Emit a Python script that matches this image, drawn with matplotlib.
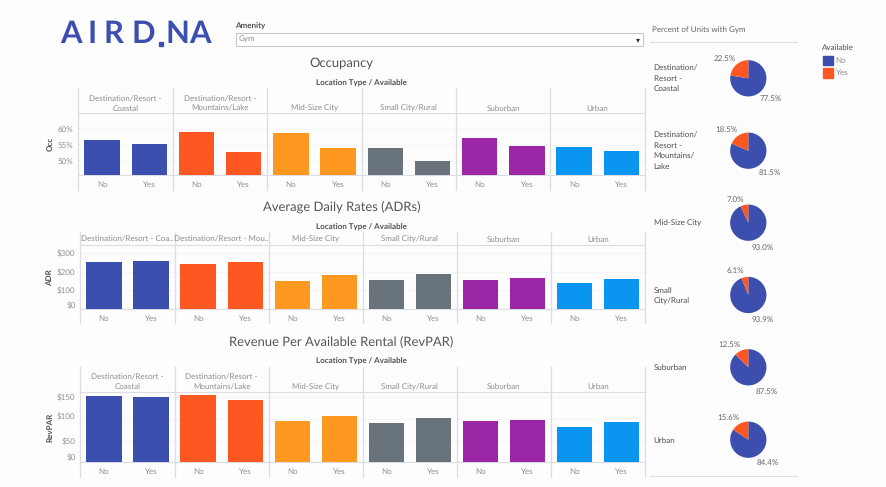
import matplotlib

matplotlib.use("Agg")
import matplotlib.pyplot as plt
from matplotlib.patches import Rectangle
from matplotlib.transforms import ScaledTranslation

plt.rcParams["font.family"] = ["Lato", "DejaVu Sans"]
plt.rcParams["text.hinting"] = "no_hinting"
plt.rcParams["text.hinting_factor"] = 1

WIDTH, HEIGHT = 886, 487

LOCATIONS = ["Destination/Resort - Coastal", "Destination/Resort - Mountains/Lake",
             "Mid-Size City", "Small City/Rural", "Suburban", "Urban"]
AVAILABLE = ["No", "Yes"]

OCC_HEADERS = ["Destination/Resort -\nCoastal", "Destination/Resort -\nMountains/Lake",
               "Mid-Size City", "Small City/Rural", "Suburban", "Urban"]
ADR_HEADERS = ["Destination/Resort - Coa..", "Destination/Resort - Mou..",
               "Mid-Size City", "Small City/Rural", "Suburban", "Urban"]

occ_values = [[56.5, 55.3], [59.0, 52.7], [58.8, 53.9], [53.9, 49.9], [57.1, 54.6], [54.4, 53.2]]
adr_values = [[252, 255], [241, 252], [149, 182], [154, 186], [154, 165], [141, 160]]
revpar_values = [[153, 151.5], [154.7, 143], [95, 106], [90, 101.6], [95, 98.4], [81.5, 92.4]]

occ_ticks = [50, 55, 60]
adr_ticks = [0, 100, 200, 300]
revpar_ticks = [0, 50, 100, 150]

PIE_LABELS = ["Destination/\nResort -\nCoastal", "Destination/\nResort -\nMountains/\nLake",
              "Mid-Size City", "Small\nCity/Rural", "Suburban", "Urban"]
pct_no = [77.5, 81.5, 93.0, 93.9, 87.5, 84.4]
pct_yes = [22.5, 18.5, 7.0, 6.1, 12.5, 15.6]

COLORS = ["#3D4FAE", "#FF5722", "#FF9820", "#68737B", "#9C27A6", "#0A96F0"]
BLUE, RED = COLORS[0], COLORS[1]
TEXT_DARK = "#555555"
TEXT_MID = "#666666"
TEXT_LIGHT = "#8e8e8e"
TEXT_BOLD = "#505050"
LINE = "#dcdce2"
GRID = "#f5f5f8"

fig = plt.figure(figsize=(WIDTH / 100, HEIGHT / 100), dpi=100, facecolor="#fdfdfe")


def px_axes(left, top, right, bottom, **kwargs):
    return fig.add_axes(
        [left / WIDTH, 1 - bottom / HEIGHT, (right - left) / WIDTH, (bottom - top) / HEIGHT],
        **kwargs,
    )


# overlay in pixel coords for the dashboard furniture
overlay = px_axes(0, 0, WIDTH, HEIGHT, zorder=5)
overlay.set_xlim(0, WIDTH)
overlay.set_ylim(HEIGHT, 0)
overlay.axis("off")
overlay.patch.set_alpha(0)


def label(x, y, text, size=6.2, color=TEXT_MID, ha="left", va="center", **kwargs):
    overlay.text(x, y, text, fontsize=size, color=color, ha=ha, va=va, **kwargs)


def draw_row(values, headers, ticks, tick_fmt, ylim, left, panel_w, top, head, base, bottom,
             title, title_y, sub_y, ylab, nudges, header_y, header_size):
    label(341.6, title_y, title, size=9.4, color=TEXT_DARK, ha="center")
    label(361, sub_y, "Location Type / Available", size=5.9, color=TEXT_BOLD, ha="center",
          fontweight="bold")
    label(50, (head + base) / 2, ylab, size=6, color=TEXT_BOLD, ha="center", rotation=90,
          fontweight="bold")
    overlay.plot([left, left + 6 * panel_w], [head, head], color=LINE, lw=0.8)
    for i in range(7):
        x = left + i * panel_w
        overlay.plot([x, x], [top, bottom], color=LINE, lw=0.9)
    for i, (vals, header) in enumerate(zip(values, headers)):
        x0 = left + i * panel_w
        ax = px_axes(x0, head, x0 + panel_w, base)
        ax.patch.set_alpha(0)
        ax.bar(AVAILABLE, vals, width=0.75, color=COLORS[i], zorder=3)
        ax.set_xlim(-0.5, 1.5)
        ax.set_ylim(*ylim)
        ax.set_yticks(ticks)
        ax.grid(axis="y", color=GRID, lw=0.8, zorder=0)
        for name, spine in ax.spines.items():
            spine.set_visible(name == "bottom")
        ax.spines["bottom"].set_color(LINE)
        ax.tick_params(axis="x", length=0, labelsize=5.8, labelcolor=TEXT_LIGHT, pad=3.8)
        ax.tick_params(axis="y", length=0, labelsize=5.7, labelcolor=TEXT_LIGHT, pad=3.5)
        if i == 0:
            ax.set_yticklabels([tick_fmt(t) for t in ticks])
            for text, nudge in zip(ax.get_yticklabels(), nudges):
                text.set_transform(text.get_transform() + ScaledTranslation(0, nudge / 100, fig.dpi_scale_trans))
        else:
            ax.tick_params(axis="y", labelleft=False)
        size = header_size if "\n" not in header and len(header) > 20 else 5.85
        label(x0 + panel_w / 2, header_y, header, size=size, color=TEXT_LIGHT, ha="center",
              va="bottom", linespacing=1.35)


draw_row(occ_values, OCC_HEADERS, occ_ticks, lambda t: f"{t}%", (45.3, 65.2),
         78.5, 94.4, 88, 113, 175.3, 190, "Occupancy", 63.5, 83.3, "Occ", [0, 0, 0], 112, 5.85)
draw_row(adr_values, ADR_HEADERS, adr_ticks, lambda t: f"${t}", (0, 340),
         80.5, 94.1, 232.3, 245.3, 309.3, 323.3, "Average Daily Rates (ADRs)", 207, 227, "ADR",
         [4.6, 0, 0, 0], 243, 5.5)
draw_row(revpar_values, OCC_HEADERS, revpar_ticks, lambda t: f"${t}", (0, 162),
         80.5, 94.1, 366.7, 392, 462.3, 476.7, "Revenue Per Available Rental (RevPAR)", 341, 361.5,
         "RevPAR", [5, 0, 2.5, 0], 390.8, 5.85)

# logo
for x, letter in zip([71, 92.5, 113, 143.5, 177.5, 199.5], "AIRDNA"):
    label(x, 34.5, letter, size=22, color="#3D4FAE", ha="center", fontweight="bold")
overlay.add_patch(Rectangle((159.5, 41.5), 4, 4, color="#3D4FAE"))

# amenity filter
label(235, 26.7, "Amenity", size=5.9, color=TEXT_BOLD, fontweight="bold")
overlay.add_patch(Rectangle((236, 33.3), 407.3, 12.4, fc="white", ec="#c8c8c8", lw=0.8))
label(238.5, 39.8, "Gym", size=5.8, color=TEXT_LIGHT)
label(637.7, 39.5, "▾", size=6, color="#333333", ha="center", family="DejaVu Sans")

# right hand pies
label(652.5, 30.7, "Percent of Units with Gym", size=6, color=TEXT_MID)
overlay.plot([650, 797], [42.3, 42.3], color=LINE, lw=0.8)
overlay.plot([650, 797], [476, 476], color=LINE, lw=0.8)

pie_centers = [78.3, 150.7, 222.7, 295, 367.3, 439.7]
pie_label_y = [78.7, 151, 223, 296, 368, 440.3]
yes_pos = [(724.7, 59), (726.7, 129.3), (735.3, 199.3), (735.3, 271), (729.3, 344.7), (728, 417.7)]
no_pos = [(771, 99), (769.3, 173), (763, 247.7), (762.7, 320), (766.3, 391.3), (768, 463)]
for i, cy in enumerate(pie_centers):
    ax = px_axes(748.3 - 18.5, cy - 18.5, 748.3 + 18.5, cy + 18.5)
    ax.pie([pct_no[i], pct_yes[i]], colors=[BLUE, RED], startangle=90, counterclock=False, radius=1)
    ax.set_xlim(-1.02, 1.02)
    ax.set_ylim(-1.02, 1.02)
    label(653.7, pie_label_y[i], PIE_LABELS[i], size=6, color="#505050", linespacing=1.5)
    label(*yes_pos[i], f"{pct_yes[i]:.1f}%", size=5.8, ha="center")
    label(*no_pos[i], f"{pct_no[i]:.1f}%", size=5.8, ha="center")

# legend
label(821.7, 48, "Available", size=6.1, color=TEXT_BOLD)
for y, name, color in [(56, AVAILABLE[0], BLUE), (68.3, AVAILABLE[1], RED)]:
    overlay.add_patch(Rectangle((823.4, y), 9.4, 9.4, color=color))
    label(835.7, y + 4.8, name, size=6.1, color=TEXT_LIGHT)

fig.savefig("out.png", dpi=100, facecolor=fig.get_facecolor())
plt.close(fig)
